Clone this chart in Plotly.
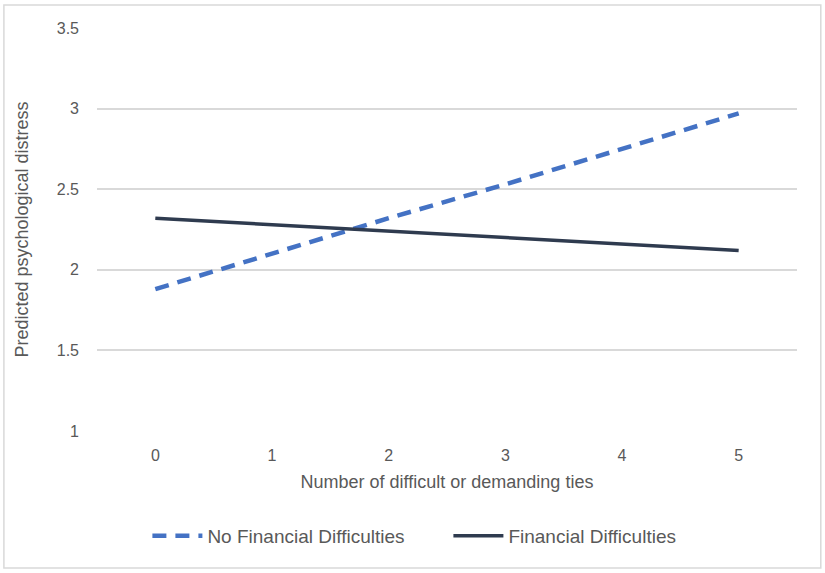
import plotly.graph_objects as go

# Data
ties = ["0", "1", "2", "3", "4", "5"]
no_fin_diff = [1.88, 2.10, 2.32, 2.53, 2.75, 2.97]
fin_diff = [2.32, 2.28, 2.24, 2.20, 2.16, 2.12]
y_ticks = [1, 1.5, 2, 2.5, 3, 3.5]
y_tick_labels = ["1", "1.5", "2", "2.5", "3", "3.5"]

fig = go.Figure()

fig.add_trace(
    go.Scatter(
        x=ties,
        y=no_fin_diff,
        mode="lines",
        line=dict(color="#4472C4", width=4.5, dash="14px,9px"),
        name="No Financial Difficulties",
    )
)

fig.add_trace(
    go.Scatter(
        x=ties,
        y=fin_diff,
        mode="lines",
        line=dict(color="#2F3B4F", width=3.5),
        name="Financial Difficulties",
    )
)

fig.update_layout(
    width=825,
    height=573,
    margin=dict(l=97, r=28, t=28, b=142),
    paper_bgcolor="white",
    plot_bgcolor="white",
    font=dict(family="Liberation Sans, Arial, sans-serif", size=16, color="#595959"),
    showlegend=True,
    legend=dict(
        orientation="h",
        x=0.072,
        xanchor="left",
        y=-0.26,
        yanchor="middle",
        font=dict(size=19, color="#595959"),
        itemwidth=50,
        entrywidth=236,
        tracegroupgap=0,
    ),
    xaxis=dict(
        type="category",
        range=[-0.5, 5.5],
        showgrid=False,
        showline=False,
        ticks="",
        ticklabelstandoff=13,
        tickfont=dict(size=16, color="#595959"),
        title=dict(text="Number of difficult or demanding ties", font=dict(size=18, color="#595959"), standoff=12),
    ),
    yaxis=dict(
        range=[1, 3.5],
        tickvals=y_ticks,
        ticktext=y_tick_labels,
        showgrid=True,
        gridcolor="#D9D9D9",
        gridwidth=1.5,
        zeroline=False,
        showline=False,
        ticks="",
        ticklabelstandoff=17,
        tickfont=dict(size=16, color="#595959"),
        title=dict(text="Predicted psychological distress", font=dict(size=18, color="#595959"), standoff=23),
    ),
    shapes=[
        dict(
            type="rect",
            xref="paper",
            yref="paper",
            x0=-0.133,
            x1=1.034,
            y0=-0.340,
            y1=1.057,
            line=dict(color="#D9D9D9", width=1.5),
            layer="below",
        )
    ],
)

fig.write_html(
    "out.html",
    config={"displayModeBar": False},
    post_script="document.body.style.margin='0';",
)
